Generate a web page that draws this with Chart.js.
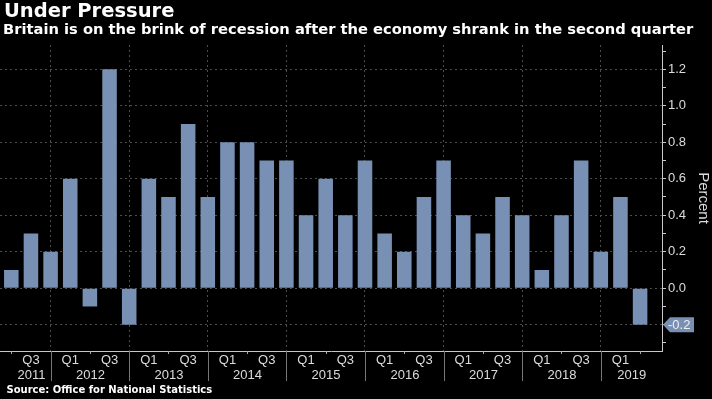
<!DOCTYPE html>
<html>
<head>
<meta charset="utf-8">
<script src="https://cdn.jsdelivr.net/npm/chart.js@4.4.0/dist/chart.umd.min.js"></script>
<style>
  html, body { margin: 0; padding: 0; background: #000; }
</style>
</head>
<body>
<canvas id="gdp" width="712" height="399"></canvas>
<script>
// quarterly GDP growth, UK
const periods = [
  'Q2 2011', 'Q3 2011', 'Q4 2011',
  'Q1 2012', 'Q2 2012', 'Q3 2012', 'Q4 2012',
  'Q1 2013', 'Q2 2013', 'Q3 2013', 'Q4 2013',
  'Q1 2014', 'Q2 2014', 'Q3 2014', 'Q4 2014',
  'Q1 2015', 'Q2 2015', 'Q3 2015', 'Q4 2015',
  'Q1 2016', 'Q2 2016', 'Q3 2016', 'Q4 2016',
  'Q1 2017', 'Q2 2017', 'Q3 2017', 'Q4 2017',
  'Q1 2018', 'Q2 2018', 'Q3 2018', 'Q4 2018',
  'Q1 2019', 'Q2 2019'
];
const growth = [
  0.1, 0.3, 0.2,
  0.6, -0.1, 1.2, -0.2,
  0.6, 0.5, 0.9, 0.5,
  0.8, 0.8, 0.7, 0.7,
  0.4, 0.6, 0.4, 0.7,
  0.3, 0.2, 0.5, 0.7,
  0.4, 0.3, 0.5, 0.4,
  0.1, 0.4, 0.7, 0.2,
  0.5, -0.2
];
const yTicks = [-0.3, -0.2, -0.1, 0, 0.1, 0.2, 0.3, 0.4, 0.5, 0.6, 0.7, 0.8, 0.9, 1.0, 1.1, 1.2, 1.3];
const yLabelled = [-0.2, 0, 0.2, 0.4, 0.6, 0.8, 1.0, 1.2];

const barColor = 'rgb(120, 144, 180)';
const textColor = '#dcdcdc';
const gridColor = '#4d4d4d';
const axisColor = '#c8c8c8';

const quarterOf = i => periods[i].split(' ')[0];
const yearOf = i => periods[i].split(' ')[1];
const isLabelled = v => yLabelled.some(t => Math.abs(t - v) < 1e-6);

const decorations = {
  id: 'decorations',
  afterDraw(chart) {
    const {ctx, chartArea} = chart;
    const xs = chart.scales.x;
    const ys = chart.scales.y;
    ctx.save();

    // title block
    ctx.fillStyle = '#fff';
    ctx.textBaseline = 'alphabetic';
    ctx.textAlign = 'left';
    ctx.font = 'bold 19.5px "DejaVu Sans"';
    ctx.fillText('Under Pressure', 4, 17);
    ctx.font = 'bold 14.7px "DejaVu Sans"';
    ctx.fillText('Britain is on the brink of recession after the economy shrank in the second quarter', 3, 34);
    ctx.font = 'bold 10px "DejaVu Sans"';
    ctx.fillText('Source: Office for National Statistics', 6.5, 392.5);

    // year separators and small Q2 ticks
    const bottom = chartArea.bottom;
    const seps = [];
    periods.forEach((p, i) => {
      const x = Math.round(xs.getPixelForValue(i)) + 0.5;
      const q = quarterOf(i);
      if (q === 'Q4') {
        seps.push(x);
        ctx.strokeStyle = '#777';
        ctx.lineWidth = 1;
        ctx.beginPath();
        ctx.moveTo(x, bottom);
        ctx.lineTo(x, bottom + 30);
        ctx.stroke();
      } else if (q === 'Q2') {
        ctx.strokeStyle = '#aaa';
        ctx.beginPath();
        ctx.moveTo(x, bottom);
        ctx.lineTo(x, bottom + 3);
        ctx.stroke();
      }
    });

    // year labels, centred on the visible part of each year
    const years = [...new Set(periods.map((p, i) => yearOf(i)))];
    const firstX = xs.getPixelForValue(0);
    ctx.fillStyle = textColor;
    ctx.font = '13px "Liberation Sans"';
    ctx.textAlign = 'center';
    years.forEach((yr, k) => {
      const a = k === 0 ? firstX : seps[k - 1];
      const b = k < seps.length ? seps[k] : chartArea.right;
      ctx.fillText(yr, (a + b) / 2, 379);
    });

    // last value badge
    const last = growth.length - 1;
    const by = ys.getPixelForValue(growth[last]);
    const bx = chartArea.right + 1;
    ctx.fillStyle = barColor;
    ctx.beginPath();
    ctx.moveTo(bx, by);
    ctx.lineTo(bx + 7, by - 7.5);
    ctx.lineTo(bx + 31, by - 7.5);
    ctx.lineTo(bx + 31, by + 7.5);
    ctx.lineTo(bx + 7, by + 7.5);
    ctx.closePath();
    ctx.fill();
    ctx.fillStyle = '#eee';
    ctx.textAlign = 'left';
    ctx.textBaseline = 'middle';
    ctx.font = '13px "Liberation Sans"';
    ctx.fillText(growth[last].toFixed(1), bx + 5, by + 0.5);

    ctx.restore();
  }
};

new Chart(document.getElementById('gdp'), {
  type: 'bar',
  data: {
    datasets: [{
      label: 'GDP growth',
      data: growth.map((v, i) => ({x: i, y: v})),
      backgroundColor: barColor,
      borderWidth: 0,
      barPercentage: 0.74,
      categoryPercentage: 1
    }]
  },
  options: {
    responsive: false,
    animation: false,
    events: [],
    layout: {
      padding: {top: 45, left: 0, right: 0, bottom: 0}
    },
    plugins: {
      legend: {display: false},
      tooltip: {enabled: false}
    },
    scales: {
      x: {
        type: 'linear',
        min: -0.575,
        max: 33.115,
        offset: false,
        afterBuildTicks: s => { s.ticks = periods.map((p, i) => ({value: i})); },
        afterFit: s => { s.height = 48; },
        ticks: {
          autoSkip: false,
          maxRotation: 0,
          color: textColor,
          padding: 2,
          font: {family: 'Liberation Sans', size: 13},
          callback: v => {
            const q = quarterOf(v);
            return (q === 'Q1' || q === 'Q3') ? q : '';
          }
        },
        grid: {
          offset: false,
          drawTicks: false,
          color: c => (c.tick && quarterOf(c.tick.value) === 'Q4') ? gridColor : 'transparent'
        },
        border: {color: axisColor, dash: [2, 3]}
      },
      y: {
        position: 'right',
        min: -0.344,
        max: 1.333,
        afterBuildTicks: s => { s.ticks = yTicks.map(v => ({value: v})); },
        afterFit: s => { s.width = 50; },
        ticks: {
          color: textColor,
          padding: 2,
          font: {family: 'Liberation Sans', size: 13},
          callback: v => isLabelled(v) ? v.toFixed(1) : ''
        },
        grid: {
          color: c => (c.tick && isLabelled(c.tick.value)) ? gridColor : 'transparent',
          tickColor: axisColor,
          tickLength: 4
        },
        border: {color: axisColor, dash: [2, 3]},
        title: {
          display: true,
          text: 'Percent',
          color: textColor,
          padding: {top: 0, bottom: 0},
          font: {family: 'Liberation Sans', size: 15}
        }
      }
    }
  },
  plugins: [decorations]
});
</script>
</body>
</html>
